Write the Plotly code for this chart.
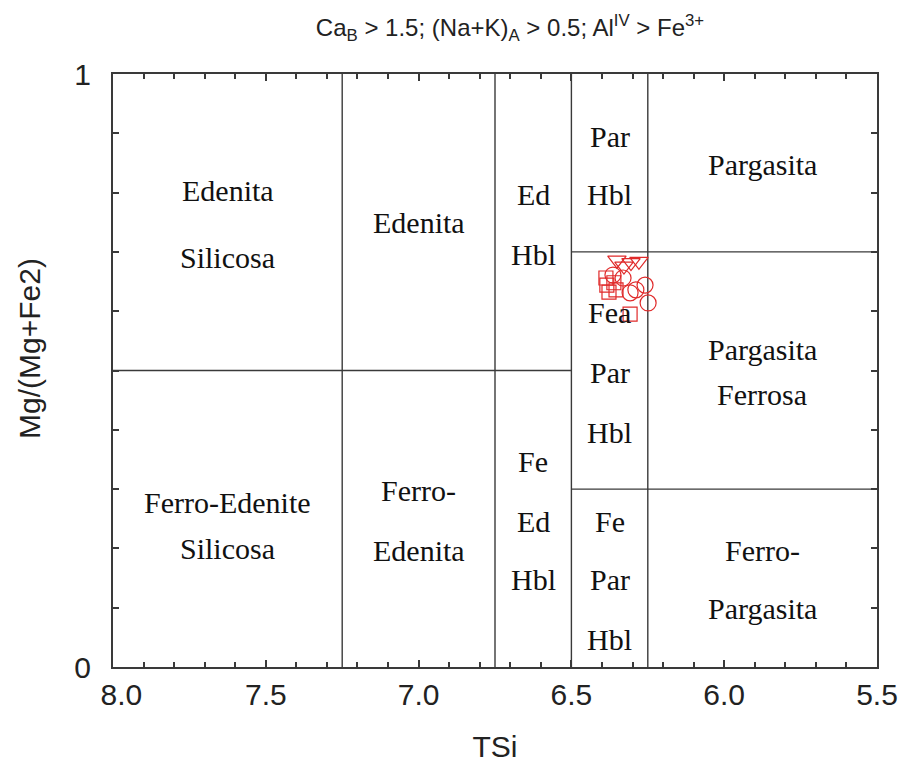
import plotly.graph_objects as go

# Tick labels
x_tick_vals = [8.0, 7.5, 7.0, 6.5, 6.0, 5.5]
x_tick_text = ["\u00a0\u00a08.0", "7.5", "7.0", "6.5", "6.0", "5.5"]
y_tick_vals = [0, 1]
y_tick_text = ["0", "1"]

# Field boundaries: vertical segments at TSi, from y0 to y1
v_x = [7.25, 6.75, 6.5, 6.25]
v_y0 = [0.0, 0.0, 0.0, 0.0]
v_y1 = [1.0, 1.0, 1.0, 1.0]

# Field boundaries: horizontal segments at Mg#, from x0 to x1
h_y = [0.5, 0.7, 0.3]
h_x0 = [8.0, 6.5, 6.5]
h_x1 = [6.5, 5.5, 5.5]

# Field names
label_text = ["Edenita", "Silicosa", "Edenita", "Ed", "Hbl", "Par", "Hbl",
              "Pargasita", "Fea", "Par", "Hbl", "Pargasita", "Ferrosa",
              "Ferro-Edenite", "Silicosa", "Ferro-", "Edenita",
              "Fe", "Ed", "Hbl", "Fe", "Par", "Hbl", "Ferro-", "Pargasita"]
label_x = [7.625, 7.625, 7.0, 6.625, 6.625, 6.375, 6.375,
           5.875, 6.375, 6.375, 6.375, 5.875, 5.875,
           7.625, 7.625, 7.0, 7.0,
           6.625, 6.625, 6.625, 6.375, 6.375, 6.375, 5.875, 5.875]
label_y = [0.804, 0.690, 0.749, 0.796, 0.695, 0.895, 0.796,
           0.847, 0.597, 0.496, 0.396, 0.536, 0.459,
           0.277, 0.199, 0.298, 0.197,
           0.346, 0.246, 0.147, 0.246, 0.147, 0.047, 0.197, 0.099]

# Analysed amphiboles
tri_x = [6.351, 6.305, 6.279, 6.328]
tri_y = [0.686, 0.682, 0.684, 0.676]
circ_x = [6.364, 6.331, 6.308, 6.259, 6.249, 6.289]
circ_y = [0.661, 0.656, 0.631, 0.644, 0.614, 0.636]
sq_x = [6.387, 6.384, 6.377, 6.361, 6.354, 6.308]
sq_y = [0.656, 0.644, 0.632, 0.648, 0.636, 0.595]

RED = "#e02a2a"
LINE = "#3a3a3a"

fig = go.Figure()

for xs, ys, sym, sz in [(tri_x, tri_y, "triangle-down-open", 16),
                        (circ_x, circ_y, "circle-open", 16),
                        (sq_x, sq_y, "square-open", 14)]:
    fig.add_trace(go.Scatter(
        x=xs, y=ys, mode="markers", showlegend=False,
        marker=dict(symbol=sym, size=sz, color=RED, line=dict(color=RED, width=1.2)),
    ))

shapes = []
for x, y0, y1 in zip(v_x, v_y0, v_y1):
    shapes.append(dict(type="line", xref="x", yref="y", x0=x, x1=x, y0=y0, y1=y1,
                       line=dict(color=LINE, width=1.4), layer="below"))
for y, x0, x1 in zip(h_y, h_x0, h_x1):
    shapes.append(dict(type="line", xref="x", yref="y", x0=x0, x1=x1, y0=y, y1=y,
                       line=dict(color=LINE, width=1.4), layer="below"))

annotations = []
for t, x, y in zip(label_text, label_x, label_y):
    annotations.append(dict(x=x, y=y, xref="x", yref="y", text=t, showarrow=False,
                            font=dict(family="Liberation Serif, Times New Roman, serif",
                                      size=30, color="#111"),
                            xanchor="center", yanchor="middle"))

axis_font = dict(family="Liberation Sans, Arial, sans-serif", size=30, color="#222")

# Vertical axis title to the left of the frame (paper units of the plot area)
annotations.append(dict(x=(29 - 113) / 764, y=(667 - 349) / 593, xref="paper", yref="paper",
                        text="Mg/(Mg+Fe2)", textangle=-90, showarrow=False,
                        xanchor="center", yanchor="middle", font=axis_font))

fig.update_layout(
    width=904, height=763,
    margin=dict(l=113, r=27, t=74, b=96),
    paper_bgcolor="white", plot_bgcolor="white",
    shapes=shapes, annotations=annotations,
    title=dict(
        text="Ca<sub>B</sub> > 1.5; (Na+K)<sub>A</sub> > 0.5; Al<sup>IV</sup> > Fe<sup>3+</sup>",
        x=510 / 904, xanchor="center", xref="container",
        y=1 - 28 / 763, yanchor="middle", yref="container",
        font=dict(family="Liberation Sans, Arial, sans-serif", size=24, color="#222"),
    ),
    xaxis=dict(
        range=[8.0, 5.5], tickvals=x_tick_vals, ticktext=x_tick_text,
        ticks="inside", ticklen=7, tickwidth=1.5, tickcolor=LINE,
        minor=dict(dtick=0.1, ticks="inside", ticklen=5, tickwidth=1.5, tickcolor=LINE),
        showline=True, linecolor=LINE, linewidth=2, mirror="ticks",
        showgrid=False, zeroline=False, tickfont=axis_font, ticklabelstandoff=0,
        automargin=False,
        title=dict(text="TSi", font=axis_font, standoff=28),
    ),
    yaxis=dict(
        range=[0, 1], tickvals=y_tick_vals, ticktext=y_tick_text,
        ticks="inside", ticklen=6, tickwidth=1.5, tickcolor=LINE,
        minor=dict(dtick=0.1, ticks="inside", ticklen=6, tickwidth=1.5, tickcolor=LINE),
        showline=True, linecolor=LINE, linewidth=2, mirror="ticks",
        showgrid=False, zeroline=False, tickfont=axis_font, ticklabelstandoff=14,
        automargin=False,
    ),
)

fig.write_html("out.html")
